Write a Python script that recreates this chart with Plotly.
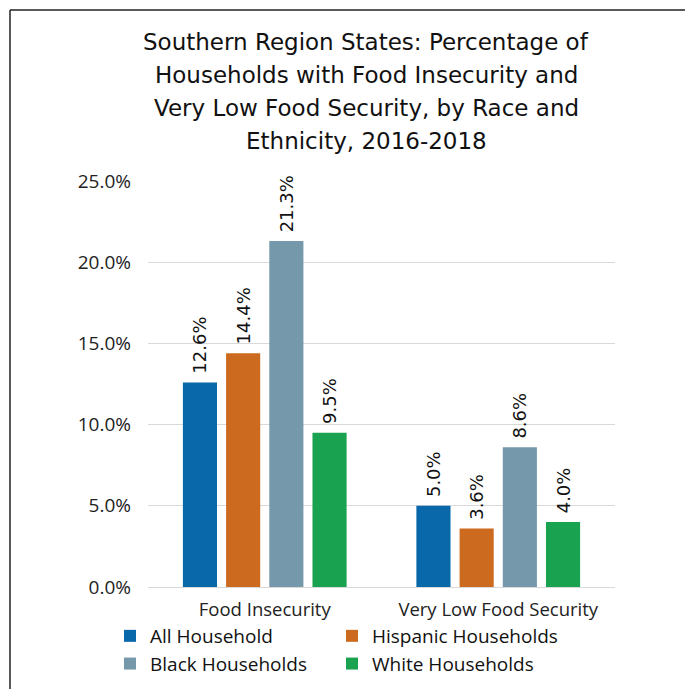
import plotly.graph_objects as go

categories = ["Food Insecurity", "Very Low Food Security"]
series_names = ["All Household", "Hispanic Households", "Black Households", "White Households"]
series_values = [
    [0.126, 0.050],
    [0.144, 0.036],
    [0.213, 0.086],
    [0.095, 0.040],
]
colors = ["#0868AA", "#CC6B1F", "#7598AA", "#19A24F"]
legend_column = ["legend", "legend2", "legend", "legend2"]
title_lines = [
    "Southern Region States: Percentage of",
    "Households with Food Insecurity and",
    "Very Low Food Security, by Race and",
    "Ethnicity, 2016-2018",
]
y_ticks = [0, 0.05, 0.10, 0.15, 0.20, 0.25]

W, H = 685, 689
L, R, T, B = 148, 70, 181, 102
pw, ph = W - L - R, H - T - B

def px_x(x):
    return (x - L) / pw

def px_y(y):
    return (H - B - y) / ph

fig = go.Figure()
for name, vals, col, lg in zip(series_names, series_values, colors, legend_column):
    fig.add_trace(go.Bar(
        x=categories, y=vals, name=name, legend=lg,
        marker=dict(color=col, line=dict(width=0)),
        texttemplate="\u00a0%{y:.1%}", textposition="outside", textangle=-90,
        textfont=dict(family="DejaVu Sans", size=18, color="#111111"),
        constraintext="none", cliponaxis=False,
    ))

annotations = []
for i, line in enumerate(title_lines):
    annotations.append(dict(
        text=line, xref="paper", yref="paper",
        x=px_x(366), y=px_y(42 + 33 * i), xanchor="center", yanchor="middle",
        showarrow=False, font=dict(family="DejaVu Sans", size=23, color="#111111"),
    ))

shapes = [
    dict(type="line", xref="paper", yref="paper", x0=px_x(10), y0=px_y(10), x1=px_x(686), y1=px_y(10),
         line=dict(color="#222222", width=1.5)),
    dict(type="line", xref="paper", yref="paper", x0=px_x(10), y0=px_y(10), x1=px_x(10), y1=px_y(690),
         line=dict(color="#222222", width=1.5)),
]

legend_common = dict(orientation="v", yanchor="top", xanchor="left", traceorder="normal",
                     bgcolor="rgba(0,0,0,0)", itemclick=False,
                     font=dict(family="Open Sans", size=19, color="#111111"))

fig.update_layout(
    width=W, height=H,
    margin=dict(l=L, r=R, t=T, b=B, autoexpand=False),
    paper_bgcolor="white", plot_bgcolor="white",
    barmode="group", bargap=0.26, bargroupgap=0.21,
    font=dict(family="Open Sans", size=18, color="#222222"),
    annotations=annotations, shapes=shapes,
    showlegend=True,
    legend=dict(x=px_x(110), y=px_y(617), **legend_common),
    legend2=dict(x=px_x(332), y=px_y(617), **legend_common),
    xaxis=dict(showgrid=False, showline=False, ticks="", ticklabelstandoff=9,
               tickfont=dict(family="Open Sans", size=18.5, color="#222222")),
    yaxis=dict(range=[0, 0.25], tickvals=y_ticks, tickformat=".1%", showgrid=True,
               gridcolor="#D9D9D9", gridwidth=1, zeroline=True, zerolinecolor="#D9D9D9",
               zerolinewidth=1, showline=False, ticks="", ticklabelstandoff=16,
               tickfont=dict(family="Open Sans", size=19, color="#222222")),
)

fig.write_html("out.html")
